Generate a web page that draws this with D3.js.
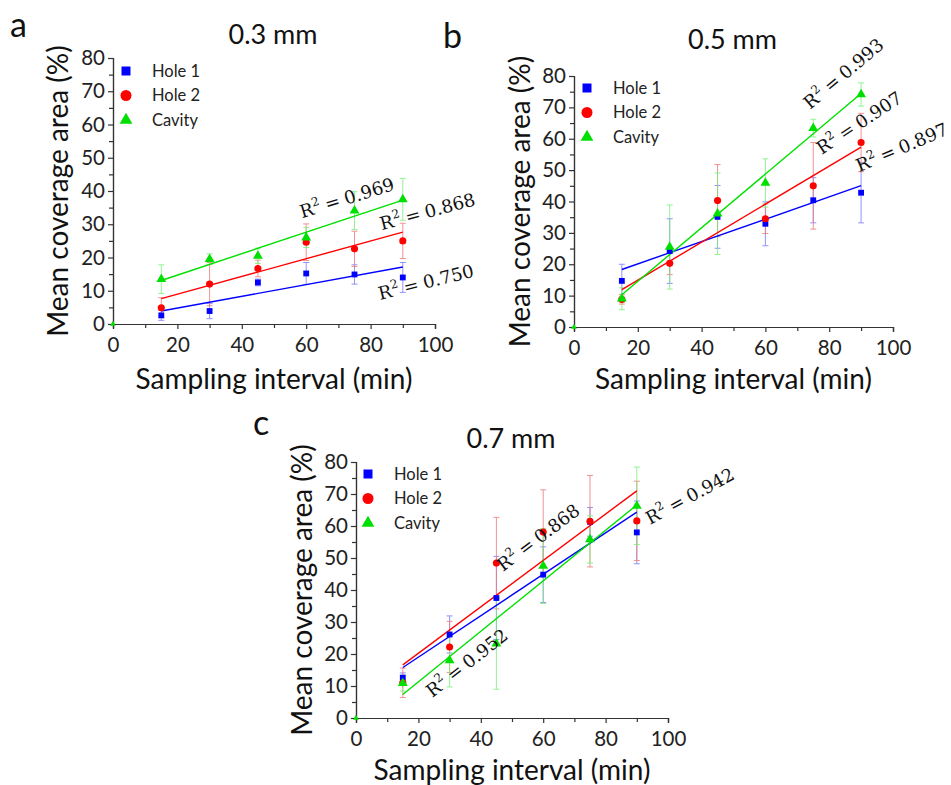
<!DOCTYPE html>
<html>
<head>
<meta charset="utf-8">
<script src="https://cdn.jsdelivr.net/npm/d3@7"></script>
<style>
  body { margin: 0; background: #fff; }
  svg { font-family: Lato, "Open Sans", sans-serif; }
</style>
</head>
<body>
<svg></svg>
<script>
// sampling times (min)
let minutes = [15, 30, 45, 60, 75, 90];
let seriesNames = ["Hole 1", "Hole 2", "Cavity"];
let xTicks = [0, 20, 40, 60, 80, 100];
let yTicks = [0, 10, 20, 30, 40, 50, 60, 70, 80];

// 0.3 mm
let hole1_03 = [2.6, 3.9, 12.5, 15.2, 14.9, 14.0];
let hole1_03_err = [1.5, 2.3, 1.0, 3.3, 2.9, 4.5];
let hole2_03 = [4.9, 12.0, 16.7, 24.6, 22.6, 25.0];
let hole2_03_err = [3.0, 6.5, 2.5, 5.5, 5.3, 5.3];
let cavity_03 = [13.5, 19.5, 20.5, 26.0, 34.1, 37.5];
let cavity_03_err = [4.3, 1.6, 2.3, 3.0, 5.7, 6.3];
let r2_03 = ["0.750", "0.868", "0.969"];

// 0.5 mm
let hole1_05 = [14.7, 24.2, 35.1, 32.9, 40.4, 42.8];
let hole1_05_err = [5.3, 10.3, 10.0, 7.0, 7.2, 9.6];
let hole2_05 = [8.8, 20.3, 40.3, 34.5, 45.0, 58.8];
let hole2_05_err = [1.5, 3.6, 11.5, 4.7, 13.8, 9.3];
let cavity_05 = [9.0, 25.5, 36.1, 45.9, 63.4, 74.1];
let cavity_05_err = [3.5, 13.4, 13.0, 7.7, 2.8, 3.7];
let r2_05 = ["0.897", "0.907", "0.993"];

// 0.7 mm
let hole1_07 = [12.6, 26.1, 37.5, 44.8, 61.3, 58.0];
let hole1_07_err = [1.5, 5.8, 13.0, 8.7, 4.5, 9.8];
let hole2_07 = [11.0, 22.2, 48.4, 58.1, 61.5, 61.6];
let hole2_07_err = [4.6, 8.0, 14.3, 13.2, 14.3, 12.4];
let cavity_07 = [10.9, 18.0, 23.2, 47.5, 55.8, 66.3];
let cavity_07_err = [2.5, 8.3, 14.2, 11.7, 7.4, 12.1];
let r2_07 = ["0.942", "0.868", "0.952"];

let origin = [0, 0];

let width = 951;
let height = 785;
let colors = ["#0000ff", "#ff0000", "#00e000"];
let errColors = ["#7878ff", "#f07878", "#78f078"];
let symbols = [d3.symbolSquare, d3.symbolCircle, d3.symbolTriangle];
let pointSizes = [34, 40, 42];
let legendSizes = [81, 95, 70];

let svg = d3.select("svg").attr("width", width).attr("height", height);

// layout per panel (pixels) + R² label anchor in data units
let panels = [
  {
    letter: "a", letterPos: [10, 37], title: "0.3 mm", titleY: 44,
    left: 113, right: 435, top: 58, bottom: 324,
    series: [[hole1_03, hole1_03_err], [hole2_03, hole2_03_err], [cavity_03, cavity_03_err]],
    r2: r2_03,
    r2Place: [[82.9, 7.2, -14], [83.5, 28.2, -15], [58.7, 31.8, -17]],
    legend: [126, 71], yTitleX: 58, xTitleY: 389
  },
  {
    letter: "b", letterPos: [443, 48], title: "0.5 mm", titleY: 49,
    left: 574, right: 893, top: 76, bottom: 327,
    series: [[hole1_05, hole1_05_err], [hole2_05, hole2_05_err], [cavity_05, cavity_05_err]],
    r2: r2_05,
    r2Place: [[89.4, 49.3, -23], [77.7, 54.8, -33.5], [74, 69.2, -40]],
    legend: [587, 88], yTitleX: 520, xTitleY: 389
  },
  {
    letter: "c", letterPos: [253, 435], title: "0.7 mm", titleY: 448,
    left: 356, right: 668, top: 462, bottom: 718,
    series: [[hole1_07, hole1_07_err], [hole2_07, hole2_07_err], [cavity_07, cavity_07_err]],
    r2: r2_07,
    r2Place: [[94.2, 60.3, -28.5], [47.1, 45.6, -37], [24.4, 6.25, -38]],
    legend: [368, 474], yTitleX: 302, xTitleY: 780
  }
];

let fitLine = values => {
  let mx = d3.mean(minutes);
  let my = d3.mean(values);
  let sxy = d3.sum(minutes, (x, i) => (x - mx) * (values[i] - my));
  let sxx = d3.sum(minutes, x => (x - mx) * (x - mx));
  let slope = sxy / sxx;
  let b = my - slope * mx;
  return [[15, b + slope * 15], [90, b + slope * 90]];
};

let drawPanel = p => {
  let g = svg.append("g");
  let xScale = d3.scaleLinear().domain([0, 100]).range([p.left, p.right]);
  let yScale = d3.scaleLinear().domain([0, 80]).range([p.bottom, p.top]);

  // axes
  let xAxis = d3.axisBottom(xScale).tickValues(xTicks).tickSize(5).tickPadding(8);
  let yAxis = d3.axisLeft(yScale).tickValues(yTicks).tickSize(5).tickPadding(3);
  let xMinor = d3.axisBottom(xScale).tickValues([10, 30, 50, 70, 90]).tickSize(4).tickFormat("");
  let yMinor = d3.axisLeft(yScale).tickValues([5, 15, 25, 35, 45, 55, 65, 75]).tickSize(4).tickFormat("");

  g.append("g").attr("transform", "translate(0," + p.bottom + ")").call(xAxis);
  g.append("g").attr("transform", "translate(0," + p.bottom + ")").call(xMinor);
  g.append("g").attr("transform", "translate(" + p.left + ",0)").call(yAxis);
  g.append("g").attr("transform", "translate(" + p.left + ",0)").call(yMinor);
  g.selectAll(".domain, .tick line").attr("stroke", "#333").attr("stroke-width", 1.2);
  g.selectAll(".tick text").attr("font-size", 20.5).attr("fill", "#222")
    .attr("font-family", "Lato, sans-serif");

  // error bars
  p.series.forEach((s, k) => {
    let eg = g.append("g").attr("stroke", errColors[k]).attr("stroke-width", 1).attr("opacity", 0.8);
    minutes.forEach((m, i) => {
      let x = xScale(m);
      let y0 = yScale(s[0][i] - s[1][i]);
      let y1 = yScale(s[0][i] + s[1][i]);
      eg.append("line").attr("x1", x).attr("x2", x).attr("y1", y0).attr("y2", y1);
      eg.append("line").attr("x1", x - 3).attr("x2", x + 3).attr("y1", y0).attr("y2", y0);
      eg.append("line").attr("x1", x - 3).attr("x2", x + 3).attr("y1", y1).attr("y2", y1);
    });
  });

  // fit lines
  p.series.forEach((s, k) => {
    let pts = fitLine(s[0]);
    g.append("line")
      .attr("x1", xScale(pts[0][0])).attr("y1", yScale(pts[0][1]))
      .attr("x2", xScale(pts[1][0])).attr("y2", yScale(pts[1][1]))
      .attr("stroke", colors[k]).attr("stroke-width", 1.4);
  });

  // points
  p.series.forEach((s, k) => {
    g.selectAll(null)
      .data(minutes)
      .enter()
      .append("path")
      .attr("d", d3.symbol().type(symbols[k]).size(pointSizes[k]))
      .attr("transform", (m, i) => "translate(" + xScale(m) + "," + yScale(s[0][i]) + ")")
      .attr("fill", colors[k]);
  });
  g.append("path")
    .attr("d", d3.symbol().type(d3.symbolTriangle).size(14))
    .attr("transform", "translate(" + xScale(origin[0]) + "," + yScale(origin[1]) + ")")
    .attr("fill", colors[2]);

  // R² labels
  p.r2.forEach((t, k) => {
    let pl = p.r2Place[k];
    let txt = g.append("text")
      .attr("transform", "translate(" + xScale(pl[0]) + "," + yScale(pl[1]) + ") rotate(" + pl[2] + ")")
      .attr("font-family", "'DejaVu Serif', serif")
      .attr("font-size", 18)
      .attr("fill", "#111");
    txt.append("tspan").text("R");
    txt.append("tspan").attr("font-size", 12).attr("dy", -8).text("2");
    txt.append("tspan").attr("dy", 8).attr("dx", 5).text("=");
    txt.append("tspan").attr("dx", 5).text(t);
  });

  // legend
  seriesNames.forEach((name, k) => {
    let ly = p.legend[1] + k * 24.5;
    g.append("path")
      .attr("d", d3.symbol().type(symbols[k]).size(legendSizes[k]))
      .attr("transform", "translate(" + p.legend[0] + "," + ly + ")")
      .attr("fill", colors[k]);
    g.append("text")
      .attr("x", p.legend[0] + 26).attr("y", ly)
      .attr("dy", "0.35em")
      .attr("font-size", 16.5).attr("fill", "#222")
      .text(name);
  });

  // titles
  g.append("text")
    .attr("x", (p.left + p.right) / 2 - 1).attr("y", p.titleY)
    .attr("text-anchor", "middle").attr("font-size", 27).attr("fill", "#111")
    .text(p.title);
  g.append("text")
    .attr("x", (p.left + p.right) / 2).attr("y", p.xTitleY)
    .attr("text-anchor", "middle").attr("font-size", 28).attr("fill", "#111")
    .text("Sampling interval (min)");
  g.append("text")
    .attr("transform", "translate(" + p.yTitleX + "," + (p.top + p.bottom) / 2 + ") rotate(-90)")
    .attr("text-anchor", "middle").attr("dy", "0.35em").attr("font-size", 28).attr("fill", "#111")
    .text("Mean coverage area (%)");
  g.append("text")
    .attr("x", p.letterPos[0]).attr("y", p.letterPos[1])
    .attr("font-size", 34).attr("fill", "#111")
    .text(p.letter);
};

panels.forEach(drawPanel);
</script>
</body>
</html>
